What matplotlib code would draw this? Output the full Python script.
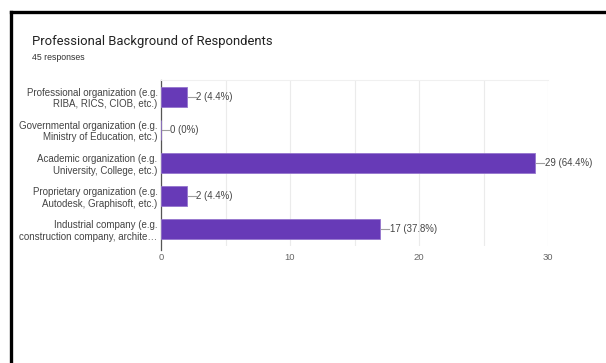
import matplotlib.pyplot as plt
from matplotlib.lines import Line2D
from matplotlib import transforms as mtrans

# data
categories = [
    "Professional organization (e.g.\nRIBA, RICS, CIOB, etc.)",
    "Governmental organization (e.g.\nMinistry of Education, etc.)",
    "Academic organization (e.g.\nUniversity, College, etc.)",
    "Proprietary organization (e.g.\nAutodesk, Graphisoft, etc.)",
    "Industrial company (e.g.\nconstruction company, archite\u2026",
]
counts = [2, 0, 29, 2, 17]
percents = ["4.4%", "0%", "64.4%", "4.4%", "37.8%"]
xticks = [0, 10, 20, 30]

bar_color = "#673ab7"
text_color = "#444444"

plt.rcParams['font.family'] = ['Liberation Sans', 'DejaVu Sans']

fig = plt.figure(figsize=(6.06, 3.63), dpi=100)
ax = fig.add_axes([161 / 606, 1 - 246 / 363, 387 / 606, 166 / 363])

y = list(range(len(categories)))
ax.barh(y, counts, height=0.6, color=bar_color, edgecolor="#9575cd", linewidth=0.6, zorder=3)
ax.set_ylim(len(categories) - 0.5, -0.5)
ax.set_xlim(0, 30)

# value labels with a short connector line
for i, (c, p) in enumerate(zip(counts, percents)):
    tr1 = mtrans.offset_copy(ax.transData, fig=fig, x=1, y=0, units="dots")
    tr2 = mtrans.offset_copy(ax.transData, fig=fig, x=9, y=0, units="dots")
    x0 = tr1.transform((c, i)); x1 = tr2.transform((c, i))
    fig.add_artist(Line2D([x0[0] / 606, x1[0] / 606], [x0[1] / 363, x1[1] / 363],
                          color="#9e9e9e", lw=0.8))
    ax.annotate(f"{c} ({p})", xy=(c, i), xytext=(9.5, 0), textcoords="offset pixels",
                va="center", ha="left", fontsize=6.9, color=text_color)

ax.set_yticks(y)
ax.set_yticklabels(categories, fontsize=7.0, color=text_color, linespacing=1.2)
ax.tick_params(axis="y", length=0, pad=2.5)
ax.set_xticks(xticks)
ax.set_xticklabels([str(t) for t in xticks], fontsize=6.8, color="#666666")
ax.tick_params(axis="x", length=0, pad=5)

ax.set_xticks([5, 15, 25], minor=True)
ax.tick_params(axis="x", which="minor", length=0)
ax.grid(axis="x", which="both", color="#ebebeb", lw=0.8, zorder=0)

for s in ["right", "bottom"]:
    ax.spines[s].set_visible(False)
ax.spines["top"].set_color("#f0f0f0")
ax.spines["top"].set_linewidth(0.8)
ax.spines["left"].set_color("#555555")
ax.spines["left"].set_linewidth(0.9)
ax.spines["left"].set_bounds(-0.5, len(categories) - 0.5 + 0.12)

# title block
fig.text(32 / 606, 1 - 41 / 363, "Professional Background of Respondents",
         fontsize=9.4, color="#212121", family=["Roboto", "DejaVu Sans"], va="center")
fig.text(32 / 606, 1 - 57 / 363, "45 responses", fontsize=6.3, color="#333333",
         va="center")

# outer frame (top and left black lines)
fig.add_artist(Line2D([11 / 606, 1.0], [1 - 12 / 363, 1 - 12 / 363], color="black", lw=2.4))
fig.add_artist(Line2D([11 / 606, 11 / 606], [0, 1 - 12 / 363], color="black", lw=2.4))

fig.savefig("out.png", dpi=100)
